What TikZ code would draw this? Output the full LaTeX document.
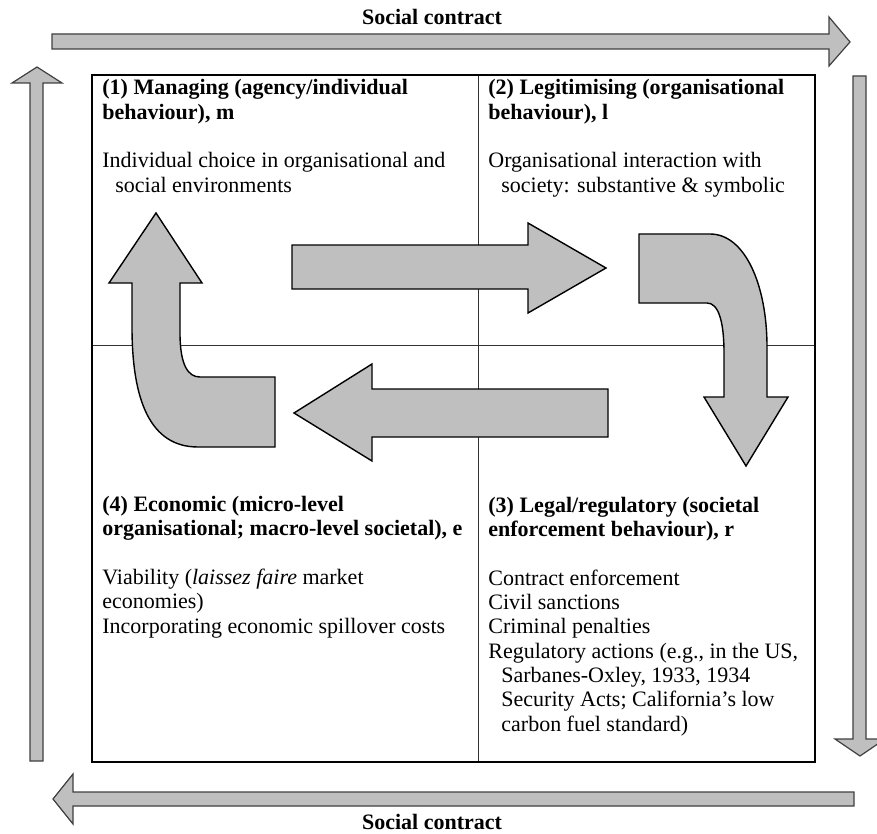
\documentclass[tikz,border=0pt]{standalone}
\usepackage{fontspec}
\setmainfont{Liberation Serif}
\usetikzlibrary{calc}

\tikzset{
  band/.style={fill=gray!50, draw=black!75, line width=0.6pt, line join=miter},
  block/.style={fill=gray!50, draw=black, line width=0.7pt, line join=miter},
  cell/.style={anchor=base west, inner sep=0pt, align=left, font=\fontsize{11}{12.15}\selectfont},
  tag/.style={anchor=base, inner sep=0pt, font=\fontsize{11}{12.15}\selectfont\bfseries},
  rule/.style={draw=black!80, line width=0.5pt},
}

\begin{document}
\begin{tikzpicture}[x=0.5pt, y=-0.5pt]
  \useasboundingbox (0,0) rectangle (877,834);
  % frame and quadrants
  \coordinate (nw) at (92,75);
  \coordinate (se) at (815,762);
  \coordinate (vt) at (478,75);
  \coordinate (vb) at (478,762);
  \coordinate (hl) at (92,345);
  \coordinate (hr) at (815,345);
  \draw[rule] (vt) -- (vb);
  \draw[rule] (hl) -- (hr);
  \draw[line width=1pt] (nw) rectangle (se);

  % social contract loop
  \draw[band] (52,34) -- (829,34) -- (829,17) -- (850,42) -- (829,66) -- (829,49) -- (52,49) -- cycle;
  \draw[band] (853,76) -- (866,76) -- (866,739) -- (885,739) -- (860,756) -- (835,739) -- (853,739) -- cycle;
  \draw[band] (854,792) -- (854,806) -- (73,806) -- (73,824) -- (53,799) -- (73,774) -- (73,792) -- cycle;
  \draw[band] (30,761) -- (30,83) -- (12,83) -- (37,67) -- (62,83) -- (43,83) -- (43,761) -- cycle;
  \node (sctop) at (432,25) [tag] {Social contract};
  \node (scbot) at (432,829) [tag] {Social contract};

  % inner cycle
  \draw[block] (292,245) -- (528,245) -- (528,223) -- (606,268) -- (528,313) -- (528,289) -- (292,289) -- cycle;
  \draw[block] (639,234) -- (710,234) .. controls (745,234) and (767,285) .. (767,347) -- (767,397) -- (788,397) -- (746,466) -- (704,397) -- (724,397) -- (724,353) .. controls (724,320) and (718,303) .. (707,303) -- (639,303) -- cycle;
  \draw[block] (608,389) -- (372,389) -- (372,364) -- (294,413) -- (372,461) -- (372,437) -- (608,437) -- cycle;
  \draw[block] (156,213) -- (202,283) -- (180,283) -- (180,333) .. controls (180,365) and (188,377) .. (200,377) -- (275,377) -- (275,447) -- (198,447) .. controls (150,447) and (132,400) .. (132,327) -- (132,283) -- (109,283) -- cycle;

  % quadrant texts (placed at the baseline of their last line)
  \node (mng) at (102,192) [cell] {\textbf{(1) Managing (agency/individual}\\
    \textbf{behaviour), m}\\[12.15pt]
    Individual choice in organisational and\\
    \hspace*{6.5pt}social environments};
  \node (lgt) at (488,192) [cell] {\textbf{(2) Legitimising (organisational}\\
    \textbf{behaviour), l}\\[12.15pt]
    Organisational interaction with\\
    \hspace*{6.5pt}society: substantive \& symbolic};
  \node (eco) at (102,633) [cell] {\textbf{(4) Economic (micro-level}\\
    \textbf{organisational; macro-level societal), e}\\[12.15pt]
    Viability (\textit{laissez faire} market\\
    economies)\\
    Incorporating economic spillover costs};
  \node (reg) at (488,731) [cell] {\textbf{(3) Legal/regulatory (societal}\\
    \textbf{enforcement behaviour), r}\\[12.15pt]
    Contract enforcement\\
    Civil sanctions\\
    Criminal penalties\\
    Regulatory actions (e.g., in the US,\\
    \hspace*{6.5pt}Sarbanes-Oxley, 1933, 1934\\
    \hspace*{6.5pt}Security Acts; California’s low\\
    \hspace*{6.5pt}carbon fuel standard)};
\end{tikzpicture}
\end{document}
